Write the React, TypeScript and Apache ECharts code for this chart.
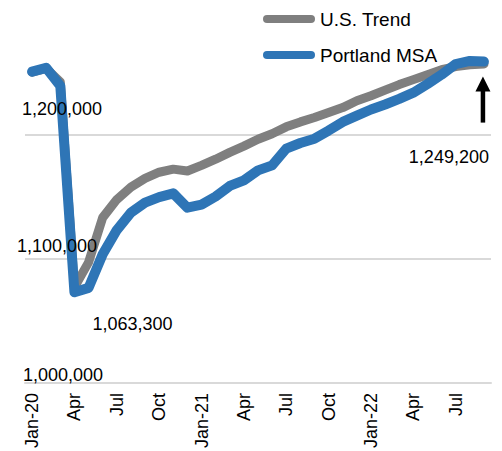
import React, { useEffect, useRef } from "react";
import * as echarts from "echarts";

const months = [
  "Jan-20","Feb-20","Mar-20","Apr-20","May-20","Jun-20","Jul-20","Aug-20","Sep-20","Oct-20","Nov-20","Dec-20",
  "Jan-21","Feb-21","Mar-21","Apr-21","May-21","Jun-21","Jul-21","Aug-21","Sep-21","Oct-21","Nov-21","Dec-21",
  "Jan-22","Feb-22","Mar-22","Apr-22","May-22","Jun-22","Jul-22","Aug-22","Sep-22",
];
const tickLabels = ["Jan-20","Apr","Jul","Oct","Jan-21","Apr","Jul","Oct","Jan-22","Apr","Jul"];

const usTrend = [
  1250000, 1253000, 1242000, 1077000, 1097000, 1133000, 1147500, 1157500, 1164500, 1169500, 1172000, 1170500,
  1175000, 1180000, 1185500, 1190500, 1196000, 1200500, 1206000, 1210000, 1213500, 1217500, 1221500, 1227000,
  1231000, 1235500, 1240000, 1244000, 1248000, 1252000, 1254500, 1256000, 1256500,
];
const portland = [
  1250400, 1253500, 1239000, 1073000, 1076500, 1103500, 1123000, 1137000, 1145000, 1149500, 1152500, 1141000,
  1143500, 1150000, 1158500, 1163000, 1171000, 1175000, 1188500, 1193000, 1196500, 1203000, 1210000, 1215000,
  1220000, 1224000, 1228500, 1233500, 1240500, 1248000, 1256500, 1259000, 1258500,
];

const yTickValues = [1000000, 1100000, 1200000];
const yTickLabels = ["1,000,000", "1,100,000", "1,200,000"];
const seriesNames = ["U.S. Trend", "Portland MSA"];
const minLabel = "1,063,300";
const endLabel = "1,249,200";

const FONT = "'Liberation Sans', Arial, sans-serif";

export default function App() {
  const ref = useRef<HTMLDivElement>(null);
  useEffect(() => {
    if (!ref.current) return;
    const chart = echarts.init(ref.current, null, { renderer: "svg" });
    const capsule = "path://M4,0 L48,0 A4,4 0 0 1 48,8 L4,8 A4,4 0 0 1 4,0 Z";
    chart.setOption({
      animation: false,
      grid: { left: 25, right: 11, top: 10, bottom: 67, containLabel: false },
      legend: {
        data: seriesNames,
        orient: "vertical",
        left: 258,
        top: 4,
        itemWidth: 52,
        itemHeight: 8,
        itemGap: 16,
        icon: capsule,
        itemStyle: { borderWidth: 0 },
        textStyle: { fontSize: 19, color: "#000", fontFamily: FONT, lineHeight: 20 },
      },
      xAxis: {
        type: "category",
        data: months,
        boundaryGap: true,
        axisLine: { show: true, lineStyle: { color: "#d9d9d9", width: 2 } },
        axisTick: { show: false },
        axisLabel: {
          interval: 2,
          rotate: 90,
          margin: 10,
          fontSize: 18,
          color: "#000",
          fontFamily: FONT,
          formatter: (_v: string, i: number) => tickLabels[Math.round(i / 3)] ?? "",
        },
        splitLine: { show: false },
      },
      yAxis: {
        type: "value",
        min: 1000000,
        max: 1300000,
        interval: 100000,
        axisLine: { show: false },
        axisTick: { show: false },
        axisLabel: { show: false },
        splitLine: { show: true, showMaxLine: false, lineStyle: { color: "#d9d9d9", width: 2 } },
      },
      series: [
        {
          name: seriesNames[0],
          type: "line",
          data: usTrend,
          symbol: "none",
          color: "#7f7f7f",
          lineStyle: { color: "#7f7f7f", width: 9, cap: "round", join: "round" },
          z: 2,
        },
        {
          name: seriesNames[1],
          type: "line",
          data: portland,
          symbol: "none",
          color: "#2e75b6",
          lineStyle: { color: "#2e75b6", width: 10, cap: "round", join: "round" },
          z: 3,
        },
      ],
    });

    const yOffsets = [
      { x: 23, dy: -8 },
      { x: 17, dy: -13 },
      { x: 22, dy: -25 },
    ];
    const graphics: any[] = [];
    yTickValues.forEach((v, i) => {
      const py = chart.convertToPixel({ yAxisIndex: 0 }, v) as number;
      graphics.push({
        type: "text",
        z: 100,
        x: yOffsets[i].x,
        y: py + yOffsets[i].dy,
        style: { text: yTickLabels[i], fill: "#000", fontSize: 18, fontFamily: FONT, align: "left", verticalAlign: "middle" },
      });
    });
    const minIdx = portland.indexOf(Math.min(...portland));
    const pMin = chart.convertToPixel({ seriesIndex: 1 }, [minIdx, portland[minIdx]]) as number[];
    graphics.push({
      type: "text",
      z: 100,
      x: pMin[0] + 18,
      y: pMin[1] + 32,
      style: { text: minLabel, fill: "#000", fontSize: 18, fontFamily: FONT, align: "left", verticalAlign: "middle" },
    });
    const last = portland.length - 1;
    const pEnd = chart.convertToPixel({ seriesIndex: 1 }, [last, portland[last]]) as number[];
    graphics.push({
      type: "text",
      z: 100,
      x: pEnd[0] + 5,
      y: pEnd[1] + 95,
      style: { text: endLabel, fill: "#000", fontSize: 18, fontFamily: FONT, align: "right", verticalAlign: "middle" },
    });
    const ax = pEnd[0] - 1;
    const tip = pEnd[1] + 15;
    graphics.push({
      type: "line",
      z: 100,
      shape: { x1: ax, y1: pEnd[1] + 61, x2: ax, y2: tip + 10 },
      style: { stroke: "#000", lineWidth: 4.5 },
    });
    graphics.push({
      type: "polygon",
      z: 100,
      shape: { points: [[ax - 7.5, tip + 15], [ax, tip], [ax + 7.5, tip + 15]] },
      style: { fill: "#000" },
    });
    chart.setOption({ graphic: graphics });

    return () => chart.dispose();
  }, []);
  return (
    <div
      ref={ref}
      style={{ position: "absolute", left: 0, top: 0, width: 502, height: 451, background: "#fff" }}
    />
  );
}
